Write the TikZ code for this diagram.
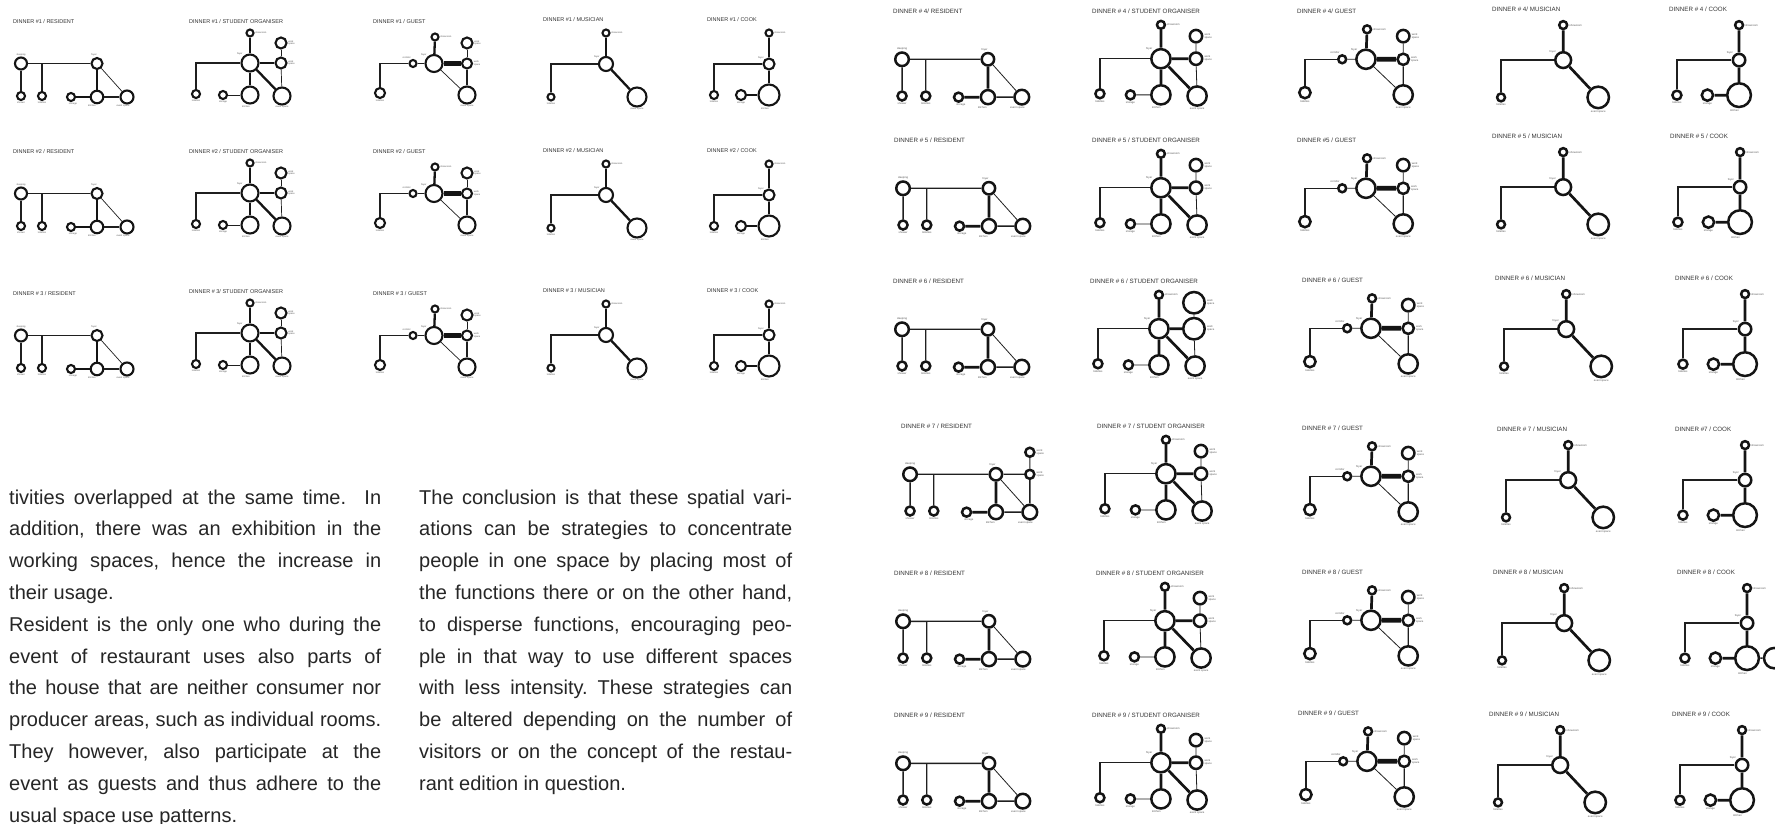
\documentclass[tikz,border=0pt]{standalone}
\usepackage{fontspec}
\setmainfont{Liberation Sans}
\newfontfamily\bodyfont{Liberation Sans}
\def\lwR{2.1pt}\def\lwA{0.7pt}\def\lwB{1.2pt}\def\lwC{2.3pt}\def\lwD{4.2pt}
\tikzset{
 ttl/.style={anchor=north west, inner sep=0pt, font=\fontsize{5.5}{6.3}\selectfont, text=black!80},
 lab/.style={inner sep=0.6pt, font=\fontsize{2.4}{2.7}\selectfont, text=black!65, align=left},
 rm/.style={circle, draw=black!92, line width=\lwR, fill=white, inner sep=0pt, minimum size=#1pt},
 e1/.style={line width=\lwA, black!88},
 e2/.style={line width=\lwB, black!88},
 e3/.style={line width=\lwC, black!92},
 e4/.style={line width=\lwD, black!92},
 bodytxt/.style={anchor=base west, inner sep=0pt, text=black!85, font=\bodyfont},
}
% #1 prefix, #2 x, #3 y, #4 scale, #5 title, #6 extra
\newcommand{\Resident}[6]{%
\begin{scope}[shift={(#2,#3)},scale=#4,transform shape]
\node[ttl] (#1t) at (0,0) {#5};
\node[rm=12,label={[lab]above:sleeping}] (#1sl) at (8,44.5) {};
\node[rm=11,label={[lab,xshift=-3pt]above:foyer}] (#1fo) at (84,44.5) {};
\node[rm=8,label={[lab]below:shower}] (#1sh) at (8,77) {};
\node[rm=8,label={[lab]below:toilettes}] (#1to) at (29,77) {};
\node[rm=8,label={[lab,xshift=2pt]below:storage}] (#1st) at (58,78) {};
\node[rm=12.5,label={[lab,xshift=-5pt]below:kitchen}] (#1ki) at (84,78) {};
\node[rm=13,label={[lab,xshift=-4pt]below:event space}] (#1ev) at (114,78) {};
\draw[e2] (#1sl) -- (#1fo);
\draw[e2] (#1to) -- (#1to |- #1sl);
\draw[e2] (#1sl) -- (#1sh);
\draw[e3] (#1st) -- (#1ki);
\draw[e3] (#1ki) -- (#1fo);
\draw[e2] (#1ki) -- (#1ev);
\draw[e1] (#1fo) -- (#1ev);
#6
\end{scope}}
% #6 ws diameter, #7 ws1 y, #8 extra
\newcommand{\SO}[8]{%
\begin{scope}[shift={(#2,#3)},scale=#4,transform shape]
\node[ttl] (#1t) at (0,0) {#5};
\node[rm=7,label={[lab]right:showroom}] (#1sr) at (61,14) {};
\node[rm=17,label={[lab]135:foyer}] (#1fo) at (61,44) {};
\node[rm=#6,label={[lab]right:{work\\space}}] (#1w1) at (92,#7) {};
\node[rm=#6,label={[lab]right:{work\\space}}] (#1w2) at (92,44) {};
\node[rm=8,label={[lab]below:toilettes}] (#1to) at (7,75) {};
\node[rm=8,label={[lab]below:storage}] (#1st) at (34,76) {};
\node[rm=17,label={[lab,xshift=-4pt]below:kitchen}] (#1ki) at (61,76) {};
\node[rm=17,label={[lab]below:event space}] (#1ev) at (93,77) {};
\draw[e2] (#1to) |- (#1fo);
\draw[e1] (#1st) -- (#1ki);
\draw[e3] (#1ki) -- (#1fo);
\draw[e3] (#1fo) -- (#1sr);
\draw[e3] (#1fo) -- (#1w2);
\draw[e1] (#1w2) -- (#1w1);
\draw[e1] (#1w2) -- (#1ev);
\draw[e3] (#1fo) -- (#1ev);
#8
\end{scope}}
\newcommand{\Guest}[6]{%
\begin{scope}[shift={(#2,#3)},scale=#4,transform shape]
\node[ttl] (#1t) at (0,0) {#5};
\node[rm=7,label={[lab]right:showroom}] (#1sr) at (62,18) {};
\node[rm=17,label={[lab]135:foyer}] (#1fo) at (61,44.5) {};
\node[rm=7,label={[lab]110:corridor}] (#1co) at (40,44.5) {};
\node[rm=11,label={[lab]right:{work\\space}}] (#1w1) at (94,24) {};
\node[rm=10,label={[lab]right:{work\\space}}] (#1w2) at (94,44.5) {};
\node[rm=10,label={[lab]below:toilettes}] (#1to) at (7,74) {};
\node[rm=17,label={[lab]below:event space}] (#1ev) at (94,76) {};
\draw[e2] (#1to) |- (#1co);
\draw[e1] (#1co) -- (#1fo);
\draw[e3] (#1fo) -- (#1sr);
\draw[e4] (#1fo) -- (#1w2);
\draw[e1] (#1w2) -- (#1w1);
\draw[e2] (#1w2) -- (#1ev);
\draw[e1] (#1fo) -- (#1ev);
#6
\end{scope}}
\newcommand{\Musician}[6]{%
\begin{scope}[shift={(#2,#3)},scale=#4,transform shape]
\node[ttl] (#1t) at (0,0) {#5};
\node[rm=7,label={[lab]right:showroom}] (#1sr) at (63,16) {};
\node[rm=14,label={[lab]135:foyer}] (#1fo) at (63,47) {};
\node[rm=7,label={[lab]below:toilettes}] (#1to) at (8,80) {};
\node[rm=19,label={[lab]below:event space}] (#1ev) at (94,80) {};
\draw[e2] (#1to) |- (#1fo);
\draw[e3] (#1fo) -- (#1sr);
\draw[e3] (#1fo) -- (#1ev);
#6
\end{scope}}
\newcommand{\Cook}[6]{%
\begin{scope}[shift={(#2,#3)},scale=#4,transform shape]
\node[ttl] (#1t) at (0,0) {#5};
\node[rm=7,label={[lab]right:showroom}] (#1sr) at (62,16) {};
\node[rm=11,label={[lab]135:foyer}] (#1fo) at (62,47) {};
\node[rm=8,label={[lab]below:toilettes}] (#1to) at (7,78) {};
\node[rm=10,label={[lab]below:storage}] (#1st) at (34,78) {};
\node[rm=21,label={[lab,xshift=-4pt]below:kitchen}] (#1ki) at (62,78) {};
\draw[e2] (#1to) |- (#1fo);
\draw[e3] (#1fo) -- (#1sr);
\draw[e3] (#1fo) -- (#1ki);
\draw[e3] (#1st) -- (#1ki);
#6
\end{scope}}
\begin{document}
\frenchspacing
\begin{tikzpicture}[x=1pt,y=-1pt]
\fill[white] (0,0) rectangle (1775,824);
\useasboundingbox (0,0) rectangle (1775,824);
% ---------- left block ----------
\Resident{ra}{13}{19}{1}{DINNER \#1 / RESIDENT}{}
\SO{sa}{189}{19}{1}{DINNER \#1 / STUDENT ORGANISER}{11}{24}{}
\Guest{ga}{373}{19}{1}{DINNER \#1 / GUEST}{}
\Musician{ma}{543}{17}{1}{DINNER \#1 / MUSICIAN}{}
\Cook{ca}{707}{17}{1}{DINNER \#1 / COOK}{}
\Resident{rb}{13}{149}{1}{DINNER \#2 / RESIDENT}{}
\SO{sb}{189}{149}{1}{DINNER \#2 / STUDENT ORGANISER}{11}{24}{}
\Guest{gb}{373}{149}{1}{DINNER \#2 / GUEST}{}
\Musician{mb}{543}{148}{1}{DINNER \#2 / MUSICIAN}{}
\Cook{cb}{707}{148}{1}{DINNER \#2 / COOK}{}
\Resident{rc}{13}{291}{1}{DINNER \# 3 / RESIDENT}{}
\SO{sc}{189}{289}{1}{DINNER \# 3/ STUDENT ORGANISER}{11}{24}{}
\Guest{gc}{373}{291}{1}{DINNER \# 3 / GUEST}{}
\Musician{mc}{543}{288}{1}{DINNER \# 3 / MUSICIAN}{}
\Cook{cc}{707}{288}{1}{DINNER \# 3 / COOK}{}
% ---------- text ----------
\node[bodytxt] (col1) at (9,504) {\parbox[t]{372pt}{\fontsize{20}{31.8}\selectfont
\makebox[372pt][s]{tivities overlapped at the same time.\ \ In}\\
\makebox[372pt][s]{addition, there was an exhibition in the}\\
\makebox[372pt][s]{working spaces, hence the increase in}\\
their usage.\\
\makebox[372pt][s]{Resident is the only one who during the}\\
\makebox[372pt][s]{event of restaurant uses also parts of}\\
\makebox[372pt][s]{the house that are neither consumer nor}\\
\makebox[372pt][s]{producer areas, such as individual rooms.}\\
\makebox[372pt][s]{They however, also participate at the}\\
\makebox[372pt][s]{event as guests and thus adhere to the}\\
usual space use patterns.}};
\node[bodytxt] (col2) at (419,504) {\parbox[t]{373pt}{\fontsize{20}{31.8}\selectfont
\makebox[373pt][s]{The conclusion is that these spatial vari-}\\
\makebox[373pt][s]{ations can be strategies to concentrate}\\
\makebox[373pt][s]{people in one space by placing most of}\\
\makebox[373pt][s]{the functions there or on the other hand,}\\
\makebox[373pt][s]{to disperse functions, encouraging peo-}\\
\makebox[373pt][s]{ple in that way to use different spaces}\\
\makebox[373pt][s]{with less intensity. These strategies can}\\
\makebox[373pt][s]{be altered depending on the number of}\\
\makebox[373pt][s]{visitors or on the concept of the restau-}\\
rant edition in question.}};
% ---------- right block ----------
\def\lwR{2.5pt}\def\lwA{0.8pt}\def\lwB{1.4pt}\def\lwC{2.7pt}\def\lwD{4.8pt}
\Resident{rd}{893}{9}{1.13}{DINNER \# 4/ RESIDENT}{}
\SO{sd}{1092}{9}{1.13}{DINNER \# 4 / STUDENT ORGANISER}{11}{24}{}
\Guest{gd}{1297}{9}{1.13}{DINNER \# 4/ GUEST}{}
\Musician{md}{1492}{7}{1.13}{DINNER \# 4/ MUSICIAN}{}
\Cook{cd}{1669}{7}{1.13}{DINNER \# 4 / COOK}{}
\Resident{re}{894}{138}{1.13}{DINNER \# 5 / RESIDENT}{}
\SO{se}{1092}{138}{1.13}{DINNER \# 5 / STUDENT ORGANISER}{11}{24}{}
\Guest{ge}{1297}{138}{1.13}{DINNER \#5 / GUEST}{}
\Musician{me}{1492}{134}{1.13}{DINNER \# 5 / MUSICIAN}{}
\Cook{ce}{1670}{134}{1.13}{DINNER \# 5 / COOK}{}
\Resident{rf}{893}{279}{1.13}{DINNER \# 6 / RESIDENT}{}
\SO{sf}{1090}{279}{1.13}{DINNER \# 6 / STUDENT ORGANISER}{19}{21}{}
\Guest{gf}{1302}{278}{1.13}{DINNER \# 6 / GUEST}{}
\Musician{mf}{1495}{276}{1.13}{DINNER \# 6 / MUSICIAN}{}
\Cook{cf}{1675}{276}{1.13}{DINNER \# 6 / COOK}{}
\Resident{rg}{901}{424}{1.13}{DINNER \# 7 / RESIDENT}{%
\node[rm=8,label={[lab]right:{work\\space}}] (rgw2) at (114,44.5) {};
\node[rm=8,label={[lab]right:{work\\space}}] (rgw1) at (114,25) {};
\draw[e2] (rgfo) -- (rgw2);
\draw[e2] (rgw2) -- (rgev);
\draw[e1] (rgw2) -- (rgw1);}
\SO{sg}{1097}{424}{1.13}{DINNER \# 7 / STUDENT ORGANISER}{11}{24}{}
\Guest{gg}{1302}{426}{1.13}{DINNER \# 7 / GUEST}{}
\Musician{mg}{1497}{427}{1.13}{DINNER \# 7 / MUSICIAN}{}
\Cook{cg}{1675}{427}{1.13}{DINNER \#7 / COOK}{}
\Resident{rh}{894}{571}{1.13}{DINNER \# 8 / RESIDENT}{}
\SO{sh}{1096}{571}{1.13}{DINNER \# 8 / STUDENT ORGANISER}{11}{24}{}
\Guest{gh}{1302}{570}{1.13}{DINNER \# 8 / GUEST}{}
\Musician{mh}{1493}{570}{1.13}{DINNER \# 8 / MUSICIAN}{}
\Cook{ch}{1677}{570}{1.13}{DINNER \# 8 / COOK}{%
\node[rm=18] (chex) at (86,78) {};
\draw[e2] (chki) -- (chex);}
\Resident{ri}{894}{713}{1.13}{DINNER \# 9 / RESIDENT}{}
\SO{si}{1092}{713}{1.13}{DINNER \# 9 / STUDENT ORGANISER}{11}{24}{}
\Guest{gi}{1298}{711}{1.13}{DINNER \# 9 / GUEST}{}
\Musician{mi}{1489}{712}{1.13}{DINNER \# 9 / MUSICIAN}{}
\Cook{ci}{1672}{712}{1.13}{DINNER \# 9 / COOK}{}
\end{tikzpicture}
\end{document}
